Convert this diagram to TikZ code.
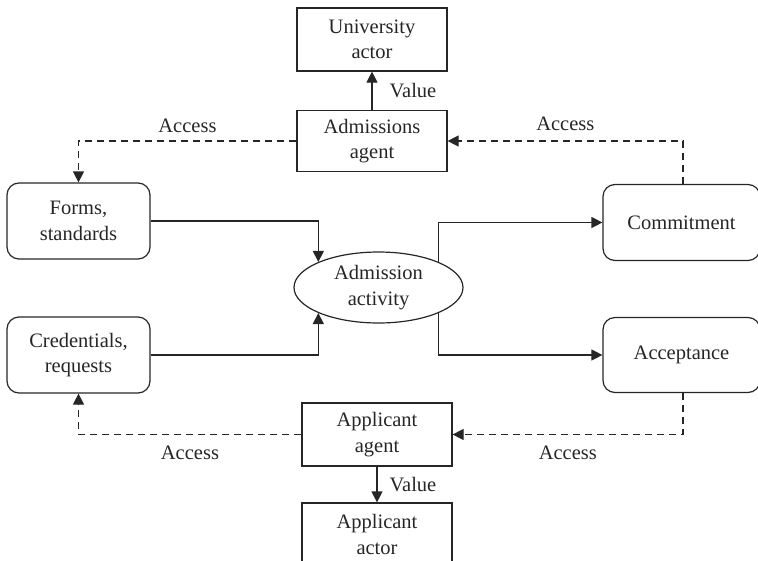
\documentclass[tikz,border=0pt]{standalone}
\usepackage{fontspec}
\setmainfont{Liberation Serif}
\usetikzlibrary{arrows.meta,shapes.geometric}
\begin{document}
\begin{tikzpicture}[x=1pt,y=-1pt, color=black!85,
  every node/.style={font=\fontsize{20.5}{25.5}\selectfont, align=center, inner sep=0pt},
  line/.style={line width=1.2pt},
  box/.style={draw, line, minimum width=150pt, minimum height=61pt},
  rbox/.style={draw, line, rounded corners=12pt, minimum width=143pt, minimum height=76pt},
  oval/.style={draw, line, ellipse, minimum width=169pt, minimum height=71pt},
  arr/.style={line, -{Triangle[length=11pt,width=11pt]}},
  darr/.style={arr, dash pattern=on 7pt off 5pt}]
\useasboundingbox (0,0) rectangle (758,560);

% actors and agents
\node[box, minimum height=63pt] (univ) at (372,39.5) {University\\actor};
\node[box] (adm) at (372,141) {Admissions\\agent};
\node[box, minimum height=63pt] (appagent) at (377,434.5) {Applicant\\agent};
\node[box, minimum height=63pt] (appactor) at (377,534.5) {Applicant\\actor};

% resources
\node[rbox] (forms) at (78.5,221) {Forms,\\standards};
\node[rbox] (cred) at (78.5,355) {Credentials,\\requests};
\node[rbox, minimum width=157pt] (commit) at (681.5,222.5) {Commitment};
\node[rbox, minimum width=157pt, minimum height=75pt] (accept) at (681.5,355) {Acceptance};

% central activity
\node[oval] (act) at (378.5,287.5) {Admission\\activity};

% value flows
\draw[arr] (adm.north) -- node[right=17pt] (v1) {Value} (univ.south);
\draw[arr] (appagent.south) -- node[right=12pt] (v2) {Value} (appactor.north);

% activity inputs and outputs
\draw[arr] (forms.east) -| (act.north west);
\draw[arr] (cred.east) -| (act.south west);
\draw[arr] (act.north east) |- (commit.west);
\draw[arr] (act.south east) |- (accept.west);

% access paths
\draw[darr] (adm.west) -| node[pos=0.25, above=7.5pt] (a1) {Access} (forms.north);
\draw[darr] ([xshift=1.5pt]commit.north) |- node[pos=0.75, above=9.5pt] (a2) {Access} (adm.east);
\draw[darr] (appagent.west) -| node[pos=0.25, below=10.5pt] (a3) {Access} (cred.south);
\draw[darr] ([xshift=1.5pt]accept.south) |- node[pos=0.75, below=10.5pt] (a4) {Access} (appagent.east);
\end{tikzpicture}
\end{document}
